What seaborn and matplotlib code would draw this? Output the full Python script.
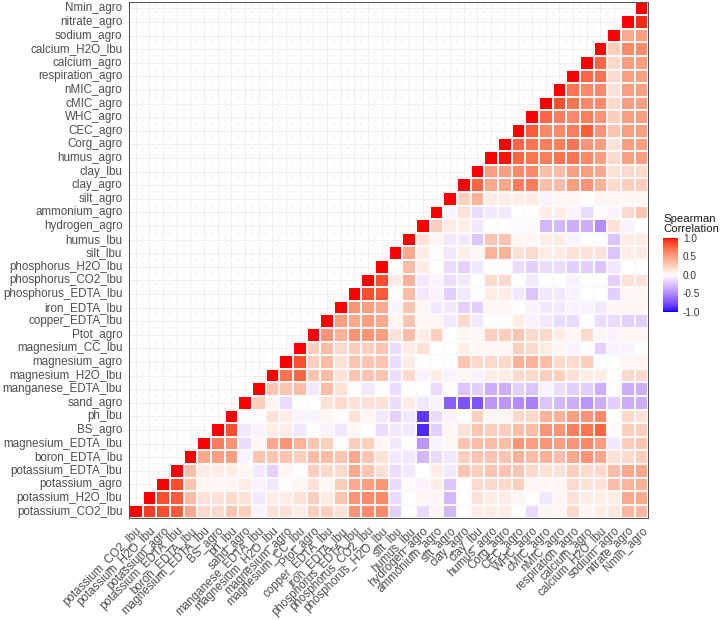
import numpy as np
import pandas as pd
import matplotlib
matplotlib.use("Agg")
import matplotlib.pyplot as plt
from matplotlib.colors import ListedColormap
import seaborn as sns

# variables, bottom/left first
variables = [
    'potassium_CO2_lbu', 'potassium_H2O_lbu', 'potassium_agro', 'potassium_EDTA_lbu',
    'boron_EDTA_lbu', 'magnesium_EDTA_lbu', 'BS_agro', 'ph_lbu', 'sand_agro',
    'manganese_EDTA_lbu', 'magnesium_H2O_lbu', 'magnesium_agro', 'magnesium_CC_lbu',
    'Ptot_agro', 'copper_EDTA_lbu', 'iron_EDTA_lbu', 'phosphorus_EDTA_lbu',
    'phosphorus_CO2_lbu', 'phosphorus_H2O_lbu', 'silt_lbu', 'humus_lbu', 'hydrogen_agro',
    'ammonium_agro', 'silt_agro', 'clay_agro', 'clay_lbu', 'humus_agro', 'Corg_agro',
    'CEC_agro', 'WHC_agro', 'cMIC_agro', 'nMIC_agro', 'respiration_agro', 'calcium_agro',
    'calcium_H2O_lbu', 'sodium_agro', 'nitrate_agro', 'Nmin_agro',
]

# correlation of each variable with the ones after it in the list above
r_potassium_CO2_lbu = [0.9, 0.85, 0.8, 0.45, 0.2, 0.2, 0.3, 0.25, -0.05, 0.15, 0.15, 0.1,
                       0.25, 0.25, 0.15, 0.55, 0.6, 0.6, -0.2, 0.0, -0.15, 0.05, -0.3, 0.0, 0.1,
                       0.1, 0.1, 0.0, -0.15, 0.05, 0.05, 0.2, 0.05, 0.1, 0.12, 0.38, 0.38]
r_potassium_H2O_lbu = [0.85, 0.8, 0.35, 0.15, 0.15, 0.2, 0.15, -0.1, 0.1, 0.1, 0.15,
                       0.25, 0.1, 0.3, 0.55, 0.6, 0.6, -0.15, 0.0, 0.05, 0.05, -0.3, 0.0, 0.15,
                       0.1, 0.1, 0.05, 0.0, -0.1, 0.05, 0.15, 0.1, 0.1, 0.1, 0.45, 0.45]
r_potassium_agro = [0.85, 0.3, 0.05, 0.05, 0.05, 0.1, -0.05, -0.1, 0.0, 0.05,
                    0.15, 0.05, 0.25, 0.45, 0.5, 0.55, -0.15, 0.02, -0.05, 0.1, -0.25, 0.0, 0.2,
                    0.2, 0.2, 0.25, 0.05, 0.05, 0.05, 0.2, 0.15, 0.15, 0.35, 0.4, 0.4]
r_potassium_EDTA_lbu = [0.35, 0.1, 0.1, 0.1, 0.05, -0.1, -0.2, 0.05, 0.0,
                        0.25, 0.2, 0.2, 0.45, 0.3, 0.15, -0.15, -0.1, 0.0, 0.1, -0.1, 0.3, 0.25,
                        0.3, 0.3, 0.3, 0.2, 0.15, 0.15, 0.25, 0.2, 0.2, 0.35, 0.45, 0.45]
r_boron_EDTA_lbu = [0.45, 0.5, 0.5, -0.05, 0.3, 0.3, 0.3, 0.25,
                    0.35, 0.35, 0.3, 0.45, 0.3, 0.15, -0.1, -0.1, -0.3, -0.15, -0.1, 0.25, 0.3,
                    0.3, 0.3, 0.4, 0.35, 0.4, 0.35, 0.45, 0.55, 0.45, 0.15, 0.2, 0.25]
r_magnesium_EDTA_lbu = [0.65, 0.55, -0.15, 0.05, 0.45, 0.55, 0.4,
                        0.3, 0.25, 0.0, 0.25, 0.25, 0.05, -0.1, 0.0, -0.45, -0.05, 0.05, 0.3, 0.35,
                        0.35, 0.35, 0.55, 0.5, 0.55, 0.5, 0.55, 0.6, 0.5, -0.1, 0.25, 0.3]
r_BS_agro = [0.85, -0.1, -0.05, 0.1, 0.1, -0.1,
             0.0, -0.05, -0.1, 0.05, 0.0, -0.15, -0.1, -0.1, -0.9, -0.2, 0.05, 0.15, 0.3,
             0.25, 0.25, 0.35, 0.35, 0.55, 0.55, 0.65, 0.7, 0.75, 0.02, 0.25, 0.25]
r_ph_lbu = [0.02, 0.0, 0.15, 0.1, -0.05,
            -0.05, 0.05, 0.0, 0.15, 0.05, -0.1, -0.2, -0.1, -0.85, -0.15, -0.05, 0.0, 0.25,
            0.05, 0.05, 0.2, 0.2, 0.4, 0.4, 0.5, 0.55, 0.6, 0.0, 0.2, 0.15]
r_sand_agro = [0.25, 0.05, -0.15, 0.0,
               0.0, 0.15, 0.2, 0.15, 0.15, 0.15, -0.15, 0.1, -0.1, -0.05, -0.7, -0.75, -0.75,
               -0.45, -0.45, -0.5, -0.55, -0.25, -0.3, -0.35, -0.45, -0.35, -0.2, -0.35, -0.35]
r_manganese_EDTA_lbu = [0.3, 0.3, 0.35,
                        -0.1, 0.35, 0.15, 0.0, -0.1, 0.0, -0.15, 0.0, 0.0, -0.15, 0.0, -0.25, -0.2,
                        -0.35, -0.35, -0.2, -0.25, -0.05, -0.15, -0.2, -0.2, -0.35, 0.0, -0.35, -0.35]
r_magnesium_H2O_lbu = [0.7, 0.75,
                       0.3, 0.35, 0.15, 0.3, 0.3, 0.3, -0.15, 0.2, -0.05, 0.1, -0.05, 0.05, -0.05,
                       0.1, 0.1, 0.2, 0.2, 0.25, 0.25, 0.15, 0.1, 0.1, 0.0, 0.2, 0.2]
r_magnesium_agro = [0.85,
                    0.25, 0.35, 0.15, 0.3, 0.3, 0.3, -0.15, 0.1, 0.0, 0.0, 0.0, 0.3, 0.2,
                    0.2, 0.2, 0.4, 0.4, 0.35, 0.2, 0.2, 0.25, 0.0, 0.0, 0.05, 0.05]
r_magnesium_CC_lbu = [0.25, 0.35, 0.2, 0.25, 0.25, 0.3, -0.15, 0.1, 0.15, 0.0, 0.0, 0.1, 0.05,
                      0.05, 0.05, 0.25, 0.2, 0.1, 0.05, -0.05, 0.0, -0.2, -0.05, -0.05, 0.0]
r_Ptot_agro = [0.55, 0.4, 0.55, 0.55, 0.5, 0.15, 0.35, 0.1, 0.25, 0.0, 0.05, 0.05,
               0.25, 0.25, 0.3, 0.2, 0.2, 0.1, 0.05, 0.2, 0.05, -0.05, 0.05, 0.05]
r_copper_EDTA_lbu = [0.5, 0.45, 0.5, 0.45, 0.05, 0.3, 0.05, 0.05, -0.1, 0.2, -0.1,
                     0.0, 0.0, 0.1, -0.05, -0.1, -0.15, -0.15, 0.0, -0.15, -0.15, -0.2, -0.2]
r_iron_EDTA_lbu = [0.55, 0.5, 0.45, -0.05, 0.3, 0.05, -0.1, -0.1, -0.2, -0.2,
                   0.05, 0.05, 0.0, -0.05, -0.1, -0.1, -0.05, -0.05, -0.1, 0.05, 0.05, 0.05]
r_phosphorus_EDTA_lbu = [0.85, 0.8, 0.0, 0.35, -0.1, -0.05, -0.2, -0.1, 0.0,
                         0.1, 0.1, -0.1, -0.25, -0.1, -0.1, -0.05, 0.0, 0.0, -0.2, 0.05, 0.05]
r_phosphorus_CO2_lbu = [0.85, 0.1, 0.4, -0.1, -0.05, -0.15, -0.1, 0.0,
                        0.2, 0.2, 0.0, -0.1, 0.0, 0.0, -0.05, 0.0, 0.0, -0.2, 0.15, 0.15]
r_phosphorus_H2O_lbu = [0.0, 0.35, 0.1, 0.0, -0.15, -0.2, -0.1,
                        0.0, 0.0, -0.15, -0.2, -0.15, -0.15, -0.2, -0.2, -0.25, -0.1, 0.0, 0.0]
r_silt_lbu = [0.45, 0.1, 0.0, -0.1, 0.1, 0.05,
              0.4, 0.4, 0.15, 0.2, 0.1, 0.1, 0.15, 0.15, 0.15, -0.25, 0.1, 0.1]
r_humus_lbu = [0.15, 0.05, -0.1, -0.1, -0.25,
               0.3, 0.3, 0.05, 0.05, 0.1, 0.1, -0.05, 0.0, 0.0, -0.25, 0.1, 0.1]
r_hydrogen_agro = [0.25, 0.1, 0.1, -0.1,
                   0.0, 0.0, -0.02, -0.02, -0.3, -0.3, -0.35, -0.35, -0.5, 0.15, -0.05, 0.0]
r_ammonium_agro = [-0.05, 0.15, -0.15,
                   -0.1, -0.1, 0.0, 0.0, 0.1, 0.1, -0.05, -0.15, 0.02, -0.05, 0.2, 0.3]
r_silt_agro = [0.25, 0.4,
               0.1, 0.1, 0.1, 0.1, -0.05, 0.05, 0.05, 0.0, 0.05, 0.05, 0.05, 0.05]
r_clay_agro = [0.75, 0.45, 0.45, 0.65, 0.65, 0.35, 0.35, 0.5, 0.55, 0.4, 0.2, 0.25, 0.25]
r_clay_lbu = [0.5, 0.5, 0.6, 0.6, 0.35, 0.35, 0.5, 0.5, 0.45, 0.15, 0.2, 0.2]
r_humus_agro = [0.98, 0.75, 0.7, 0.65, 0.7, 0.7, 0.6, 0.5, 0.2, 0.5, 0.5]
r_Corg_agro = [0.75, 0.7, 0.65, 0.65, 0.7, 0.55, 0.5, 0.15, 0.5, 0.5]
r_CEC_agro = [0.8, 0.6, 0.6, 0.65, 0.8, 0.55, 0.3, 0.5, 0.5]
r_WHC_agro = [0.75, 0.65, 0.6, 0.65, 0.55, 0.25, 0.5, 0.5]
r_cMIC_agro = [0.85, 0.7, 0.6, 0.6, 0.2, 0.5, 0.5]
r_nMIC_agro = [0.7, 0.6, 0.6, 0.15, 0.5, 0.5]
r_respiration_agro = [0.75, 0.7, 0.2, 0.5, 0.5]
r_calcium_agro = [0.75, 0.2, 0.5, 0.5]
r_calcium_H2O_lbu = [0.25, 0.6, 0.6]
r_sodium_agro = [0.45, 0.5]
r_nitrate_agro = [0.95]

rows = [r_potassium_CO2_lbu, r_potassium_H2O_lbu, r_potassium_agro, r_potassium_EDTA_lbu,
        r_boron_EDTA_lbu, r_magnesium_EDTA_lbu, r_BS_agro, r_ph_lbu, r_sand_agro,
        r_manganese_EDTA_lbu, r_magnesium_H2O_lbu, r_magnesium_agro, r_magnesium_CC_lbu,
        r_Ptot_agro, r_copper_EDTA_lbu, r_iron_EDTA_lbu, r_phosphorus_EDTA_lbu,
        r_phosphorus_CO2_lbu, r_phosphorus_H2O_lbu, r_silt_lbu, r_humus_lbu, r_hydrogen_agro,
        r_ammonium_agro, r_silt_agro, r_clay_agro, r_clay_lbu, r_humus_agro, r_Corg_agro,
        r_CEC_agro, r_WHC_agro, r_cMIC_agro, r_nMIC_agro, r_respiration_agro, r_calcium_agro,
        r_calcium_H2O_lbu, r_sodium_agro, r_nitrate_agro]

legend_ticks = [-1.0, -0.5, 0.0, 0.5, 1.0]

# build the triangle matrix (row i = y position from bottom, col j = x position)
n = len(variables)
mat = np.full((n, n), np.nan)
for i in range(n):
    mat[i, i] = 1.0
    if i < n - 1:
        mat[i, i + 1:] = rows[i]
df = pd.DataFrame(mat, index=variables, columns=variables)
df = df.iloc[::-1]  # Nmin_agro on top


# blue - white - red, interpolated in Lab like ggplot's scale_fill_gradient2
def to_lab(rgb):
    c = np.asarray(rgb, dtype=float)
    c = np.where(c <= 0.04045, c / 12.92, ((c + 0.055) / 1.055) ** 2.4)
    m = np.array([[0.4124, 0.3576, 0.1805], [0.2126, 0.7152, 0.0722], [0.0193, 0.1192, 0.9505]])
    xyz = m @ c / np.array([0.95047, 1.0, 1.08883])
    f = np.where(xyz > (6 / 29) ** 3, np.cbrt(xyz), xyz / (3 * (6 / 29) ** 2) + 4 / 29)
    return np.array([116 * f[1] - 16, 500 * (f[0] - f[1]), 200 * (f[1] - f[2])])


def from_lab(lab):
    L, a, b = lab
    fy = (L + 16) / 116
    f = np.array([fy + a / 500, fy, fy - b / 200])
    xyz = np.where(f > 6 / 29, f ** 3, 3 * (6 / 29) ** 2 * (f - 4 / 29)) * np.array([0.95047, 1.0, 1.08883])
    minv = np.array([[3.2406, -1.5372, -0.4986], [-0.9689, 1.8758, 0.0415], [0.0557, -0.2040, 1.0570]])
    c = minv @ xyz
    c = np.where(c <= 0.0031308, 12.92 * c, 1.055 * np.clip(c, 0, None) ** (1 / 2.4) - 0.055)
    return np.clip(c, 0, 1)


lab_blue, lab_white, lab_red = to_lab([0, 0, 1]), to_lab([1, 1, 1]), to_lab([1, 0, 0])
colors = []
for t in np.linspace(0, 1, 256):
    if t < 0.5:
        lab = lab_blue + (lab_white - lab_blue) * (t / 0.5)
    else:
        lab = lab_white + (lab_red - lab_white) * ((t - 0.5) / 0.5)
    colors.append(from_lab(lab))
cmap = ListedColormap(colors)

sns.set_style("white")
plt.rcParams['font.family'] = ['Liberation Sans', 'DejaVu Sans']

fig = plt.figure(figsize=(7.22, 6.2), dpi=100)
ax = fig.add_axes([129 / 722, 1 - 518.3 / 620, 519.3 / 722, 516.6 / 620])
cax = fig.add_axes([663.3 / 722, 1 - 311.7 / 620, 15 / 722, 73.7 / 620])

sns.heatmap(df, ax=ax, cmap=cmap, vmin=-1, vmax=1, mask=df.isnull(),
            linewidths=0.2, linecolor='#FAFAFA', cbar_ax=cax,
            xticklabels=True, yticklabels=True)

# background grid and panel border, like theme_bw
ax.grid(True, color='#EBEBEB', linewidth=0.6)
ax.set_axisbelow(True)
for s in ax.spines.values():
    s.set_visible(True)
    s.set_color('#333333')
    s.set_linewidth(0.6)

ax.set_xlabel('')
ax.set_ylabel('')
ax.tick_params(axis='both', length=2.75, width=0.5, color='#333333',
               labelsize=8.4, labelcolor='#4D4D4D', pad=2)
plt.setp(ax.get_yticklabels(), rotation=0)
plt.setp(ax.get_xticklabels(), rotation=45, ha='right', va='top', rotation_mode='anchor')

# legend
cbar = ax.collections[0].colorbar
cbar.outline.set_visible(False)
cbar.set_ticks(legend_ticks)
cbar.set_ticklabels([f'{v:.1f}' for v in legend_ticks])
cax.tick_params(direction='in', length=3, width=0.6, color='white',
                labelsize=7.2, labelcolor='#333333', pad=3.4)
fig.text(663.3 / 722, 1 - 233.5 / 620, 'Spearman\nCorrelation', ha='left', va='bottom',
         fontsize=8.2, color='#1A1A1A', linespacing=1.0)

fig.savefig('out.png', dpi=100)
